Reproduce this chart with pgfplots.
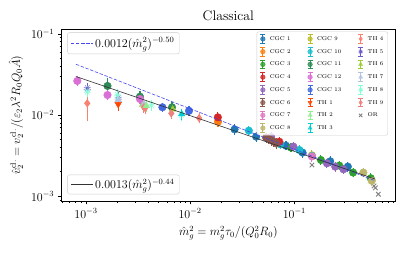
\documentclass[border=0pt]{standalone}
\usepackage{pgfplots}
\pgfplotsset{compat=1.18}
\usetikzlibrary{plotmarks}
\definecolor{cgcA}{HTML}{1F77B4}
\definecolor{cgcB}{HTML}{FF7F0E}
\definecolor{cgcC}{HTML}{2CA02C}
\definecolor{cgcD}{HTML}{D62728}
\definecolor{cgcE}{HTML}{9467BD}
\definecolor{cgcF}{HTML}{8C564B}
\definecolor{cgcG}{HTML}{E377C2}
\definecolor{cgcH}{HTML}{BDB76B}
\definecolor{cgcI}{HTML}{BCBD22}
\definecolor{cgcJ}{HTML}{17BECF}
\definecolor{cgcK}{HTML}{2E8B57}
\definecolor{cgcL}{HTML}{DA70D6}
\definecolor{cgcM}{HTML}{4169E1}
\definecolor{thA}{HTML}{FF4500}
\definecolor{thB}{HTML}{90EE90}
\definecolor{thC}{HTML}{00CED1}
\definecolor{thD}{HTML}{FA8072}
\definecolor{thE}{HTML}{6A5ACD}
\definecolor{thF}{HTML}{9ACD32}
\definecolor{thG}{HTML}{B0C4DE}
\definecolor{thH}{HTML}{7FFFD4}
\definecolor{thI}{HTML}{F08080}
\definecolor{fitblue}{RGB}{70,70,240}
\tikzset{boxleg/.style={draw=black!20, fill=white, fill opacity=0.8, text opacity=1,
    rounded corners=2pt}}
\pgfplotsset{
  errleg/.style={legend image code/.code={
    \draw[##1, mark=none, solid, line width=0.8pt] (0.15cm,-0.15cm) -- (0.15cm,0.15cm)
      (0.06cm,-0.15cm) -- (0.24cm,-0.15cm) (0.06cm,0.15cm) -- (0.24cm,0.15cm);
    \draw[##1, mark size=2.3pt] plot coordinates {(0.15cm,0cm)};
  }},
  orleg/.style={legend image code/.code={
    \draw[##1, mark size=2.3pt] plot coordinates {(0.15cm,0cm)};
  }},
  ser/.style={error bars/y dir=both, error bars/y explicit,
    error bars/error bar style={line width=1.1pt, color=#1, solid},
    error bars/error mark options={line width=1.1pt, color=#1, mark size=3pt, solid},
    only marks, color=#1, mark=*, mark size=3.8pt,
    mark options={solid, fill=#1, draw=#1}, errleg},
  fitlegblue/.style={legend image code/.code={\draw[fitblue, line width=0.6pt, dash pattern=on 3.5pt off 1.6pt] (0pt,0pt) -- (22pt,0pt);}},
  fitlegblack/.style={legend image code/.code={\draw[black!80, line width=0.6pt] (0pt,0pt) -- (22pt,0pt);}},
}
\begin{document}
\fontsize{11.5}{13.8}\selectfont
\begin{tikzpicture}
\begin{axis}[at={(0,0)}, anchor=south west, scale only axis,
  width=333.3pt, height=171.5pt, xmode=log, ymode=log,
  xmin=5.85e-4, xmax=0.9256, ymin=8.75e-4, ymax=0.1136,
  tick label style={font=\fontsize{11.5}{13.8}\selectfont},
  label style={font=\fontsize{11.5}{13.8}\selectfont},
  title={Classical}, title style={font=\fontsize{13.8}{16}\selectfont, yshift=-1pt},
  xlabel={$\hat m_g^2 = m_g^2\tau_0/(Q_0^2R_0)$},
  ylabel={$\hat v_2^{\mathrm{cl.}} = v_2^{\mathrm{cl.}}/(\varepsilon_2\lambda^2R_0Q_0\hat{A})$},
  axis line style={line width=0.8pt},
  tick style={line width=0.8pt, black},
  major tick length=3.5pt, minor tick length=2pt,
  tick align=outside, xtick pos=left, ytick pos=left,
  legend columns=3,
  legend style={at={(0.979,0.988)}, anchor=north east, boxleg,
    font=\fontsize{5.6}{6.5}\selectfont,
    nodes={inner sep=1.5pt, text height=4.2pt, text depth=1pt},
    row sep=3.4pt, inner xsep=3pt, inner ysep=2.5pt,
    /tikz/every even column/.append style={column sep=15pt},
    /tikz/every odd column/.append style={column sep=2.5pt}},
  legend cell align=left,
]
% row 1
\addplot[ser=cgcA] coordinates {(0.0267,0.00668) +- (0,0.0004) (0.043,0.00543) +- (0,0.0003) (0.0832,0.0042) +- (0,0.0002) (0.12,0.00345) +- (0,0.0002) (0.221,0.0027) +- (0,0.00015) (0.3265,0.00232) +- (0,0.00012)};
\addlegendentry{CGC 1}
\addplot[ser=cgcI] coordinates {(0.1476,0.0032) +- (0,0.0002)};
\addlegendentry{CGC 9}
\addplot[ser=thD, mark=diamond*] coordinates {(0.00103,0.014) +- (0,0.0049) (0.0037,0.0122) +- (0,0.0008) (0.0122,0.0092) +- (0,0.0006)};
\addlegendentry{TH 4}
% row 2
\addplot[ser=cgcB] coordinates {(0.0185,0.0083) +- (0,0.0005)};
\addlegendentry{CGC 2}
\addplot[ser=cgcJ] coordinates {(0.0366,0.00644) +- (0,0.0003) (0.0733,0.00437) +- (0,0.0002) (0.1117,0.00372) +- (0,0.0002) (0.1476,0.00314) +- (0,0.0002)};
\addlegendentry{CGC 10}
\addplot[ser=thE, mark=10-pointed star] coordinates {(0.00103,0.0214) +- (0,0.0015) (0.00204,0.0162) +- (0,0.0015)};
\addlegendentry{TH 5}
% row 3
\addplot[ser=cgcC] coordinates {(0.093,0.00398) +- (0,0.0002) (0.18,0.0028) +- (0,0.00015) (0.27,0.00239) +- (0,0.00012) (0.3666,0.00196) +- (0,0.0001) (0.542,0.00167) +- (0,0.0001)};
\addlegendentry{CGC 3}
\addplot[ser=cgcK] coordinates {(0.00161,0.0229) +- (0,0.0038) (0.0033,0.0169) +- (0,0.0012) (0.0067,0.0125) +- (0,0.0008)};
\addlegendentry{CGC 11}
\addplot[ser=thF, mark=triangle*] coordinates {(0.0035,0.0135) +- (0,0.001) (0.0068,0.0118) +- (0,0.0008)};
\addlegendentry{TH 6}
% row 4
\addplot[ser=cgcD] coordinates {(0.01845,0.0094) +- (0,0.0006) (0.0718,0.00471) +- (0,0.0002)};
\addlegendentry{CGC 4}
\addplot[ser=cgcL] coordinates {(0.000826,0.0264) +- (0,0.0015) (0.00161,0.0177) +- (0,0.0012) (0.0033,0.0158) +- (0,0.001)};
\addlegendentry{CGC 12}
\addplot[ser=thG, mark=triangle*] coordinates {(0.00204,0.0155) +- (0,0.001) (0.0036,0.0138) +- (0,0.001)};
\addlegendentry{TH 7}
% row 5
\addplot[ser=cgcE] coordinates {(0.06,0.0054) +- (0,0.0003) (0.098,0.0041) +- (0,0.0002) (0.2056,0.00255) +- (0,0.00012) (0.2466,0.00232) +- (0,0.00012) (0.2966,0.00215) +- (0,0.0001)};
\addlegendentry{CGC 5}
\addplot[ser=cgcM] coordinates {(0.00542,0.0125) +- (0,0.0006) (0.00975,0.0113) +- (0,0.0006)};
\addlegendentry{CGC 13}
\addplot[ser=thH, mark=10-pointed star] coordinates {(0.00103,0.0195) +- (0,0.0015) (0.002,0.0177) +- (0,0.0015) (0.00425,0.0133) +- (0,0.001) (0.00822,0.0101) +- (0,0.0008)};
\addlegendentry{TH 8}
% row 6
\addplot[ser=cgcF] coordinates {(0.0536,0.0053) +- (0,0.0003) (0.057,0.0051) +- (0,0.0003) (0.06,0.0049) +- (0,0.0003) (0.0636,0.0047) +- (0,0.0003) (0.0668,0.0045) +- (0,0.0003)};
\addlegendentry{CGC 6}
\addplot[ser=thA, mark=triangle*, every mark/.append style={rotate=180}] coordinates {(0.00204,0.0136) +- (0,0.0015)};
\addlegendentry{TH 1}
\addplot[ser=thI, mark=diamond*] coordinates {(0.0036,0.0125) +- (0,0.0009) (0.0066,0.0105) +- (0,0.0008)};
\addlegendentry{TH 9}
% row 7
\addplot[ser=cgcG] coordinates {(0.1476,0.0031) +- (0,0.0002)};
\addlegendentry{CGC 7}
\addplot[ser=thB, mark=triangle*] coordinates {(0.0038,0.013) +- (0,0.001)};
\addlegendentry{TH 2}
\addplot[only marks, mark=x, color=gray, mark size=3.2pt, mark options={line width=0.9pt}, orleg]
  coordinates {(0.1476,0.00243) (0.583,0.00134) (0.6,0.00127) (0.641,0.00106)};
\addlegendentry{OR}
% row 8
\addplot[ser=cgcH] coordinates {(0.46,0.00196) +- (0,0.0001) (0.554,0.00155) +- (0,0.0001)};
\addlegendentry{CGC 8}
\addplot[ser=thC, mark=triangle*] coordinates {(0.0083,0.0103) +- (0,0.0007)};
\addlegendentry{TH 3}
\end{axis}
\begin{axis}[at={(0,0)}, anchor=south west, scale only axis,
  width=333.3pt, height=171.5pt, xmode=log, ymode=log,
  xmin=5.85e-4, xmax=0.9256, ymin=8.75e-4, ymax=0.1136, hide axis,
  legend style={at={(0.017,0.983)}, anchor=north west, boxleg,
    inner xsep=3pt, inner ysep=3pt, font=\fontsize{11.5}{13.8}\selectfont},
  legend cell align=left]
\addplot[fitblue, dashed, dash pattern=on 3.5pt off 1.6pt, line width=0.6pt, fitlegblue]
  coordinates {(0.0008,0.04243) (0.6,0.001549)};
\addlegendentry{$0.0012(\hat m_g^2)^{-0.50}$}
\end{axis}
\begin{axis}[at={(0,0)}, anchor=south west, scale only axis,
  width=333.3pt, height=171.5pt, xmode=log, ymode=log,
  xmin=5.85e-4, xmax=0.9256, ymin=8.75e-4, ymax=0.1136, hide axis,
  legend style={at={(0.017,0.039)}, anchor=south west, boxleg,
    inner xsep=3pt, inner ysep=2pt, font=\fontsize{11.5}{13.8}\selectfont},
  legend cell align=left]
\addplot[black!80, line width=0.6pt, fitlegblack]
  coordinates {(0.0008,0.02997) (0.6,0.001628)};
\addlegendentry{$0.0013(\hat m_g^2)^{-0.44}$}
\end{axis}
\pgfresetboundingbox
\path[use as bounding box] (-61.7pt,-52pt) rectangle (345.3pt,201pt);
\end{tikzpicture}
\end{document}
